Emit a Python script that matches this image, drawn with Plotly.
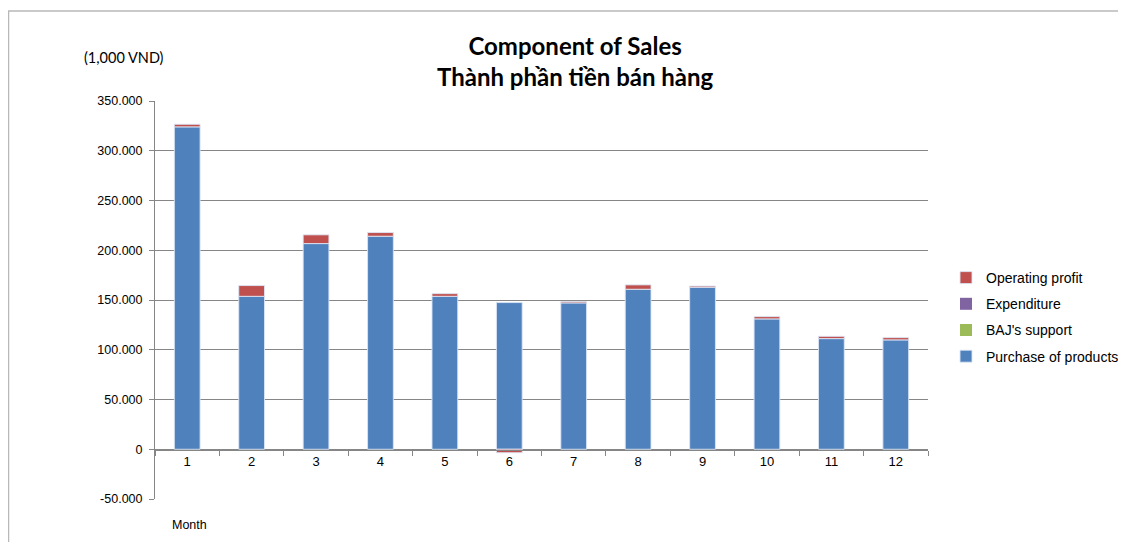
import plotly.graph_objects as go

months = [str(m) for m in range(1, 13)]
purchase = [324000, 153700, 206700, 214100, 153700, 147400, 147100, 160800, 162800, 131000, 111200, 109900]
baj_support = [0] * 12
expenditure = [0] * 12
operating_profit = [2600, 10800, 8800, 3700, 2700, -3500, 1300, 4400, 1200, 2300, 2300, 2300]

y_tickvals = [-50000, 0, 50000, 100000, 150000, 200000, 250000, 300000, 350000]
y_ticktext = ["-50.000", "0", "50.000", "100.000", "150.000", "200.000", "250.000", "300.000", "350.000"]

# page body has an 8px margin: figure occupies screen x 8..1126, y 8..542
OFF = 8
W, H = 1126 - OFF, 542 - OFF
# plot area in screen coordinates
L, R, T, B = 155, 928, 101, 499


def px(x):
    return (x - L) / (R - L)


def py(y):
    return (B - y) / (B - T)


edge = dict(color="rgba(220,230,245,0.9)", width=1)
fig = go.Figure()
fig.add_trace(go.Bar(x=months, y=purchase, name="Purchase of products", legendgroup="a", legendrank=4,
                     marker=dict(color="#4F81BD", line=edge)))
fig.add_trace(go.Bar(x=months, y=baj_support, name="BAJ's support", legendgroup="b", legendrank=3,
                     marker=dict(color="#9BBB59", line=dict(width=0))))
fig.add_trace(go.Bar(x=months, y=expenditure, name="Expenditure", legendgroup="c", legendrank=2,
                     marker=dict(color="#8064A2", line=dict(width=0))))
fig.add_trace(go.Bar(x=months, y=operating_profit, name="Operating profit", legendgroup="d", legendrank=1,
                     marker=dict(color="#C0504D", line=edge)))

fig.update_layout(
    width=W, height=H,
    margin=dict(l=L - OFF, r=1126 - R, t=T - OFF, b=542 - B, autoexpand=False),
    barmode="relative",
    bargap=0.6,
    plot_bgcolor="white",
    paper_bgcolor="white",
    font=dict(family="Liberation Sans, Arial", size=12, color="black"),
    showlegend=True,
    legend=dict(
        x=px(946), y=py(262), xanchor="left", yanchor="top",
        traceorder="grouped", font=dict(size=14, family="Liberation Sans, Arial"),
        itemwidth=30, tracegroupgap=5, bgcolor="rgba(0,0,0,0)",
    ),
    xaxis=dict(
        type="category", anchor="free", position=py(449.5),
        showline=True, linecolor="#868686", linewidth=1,
        ticks="outside", tickson="boundaries", ticklen=5, tickcolor="#868686",
        showgrid=False, tickfont=dict(size=13),
    ),
    yaxis=dict(
        range=[-50000, 350000], tickvals=y_tickvals, ticktext=y_ticktext,
        showline=True, linecolor="#868686", linewidth=1,
        ticks="outside", ticklen=5, tickcolor="#868686",
        showgrid=True, gridcolor="#868686", gridwidth=1,
        zeroline=False, tickfont=dict(size=12.5), ticklabelstandoff=4,
    ),
    annotations=[
        dict(text="<b>Component of Sales</b><br><b>Thành phần tiền bán hàng</b>",
             xref="paper", yref="paper", x=px(575), y=py(61), xanchor="center", yanchor="middle",
             showarrow=False, font=dict(family="Lato, Liberation Sans", size=24, color="black")),
        dict(text="(1,000 VND)", xref="paper", yref="paper", x=px(82), y=py(58),
             xanchor="left", yanchor="middle", showarrow=False,
             font=dict(family="Lato, Liberation Sans", size=14.5)),
        dict(text="Month", xref="paper", yref="paper", x=px(170), y=py(525),
             xanchor="left", yanchor="middle", showarrow=False,
             font=dict(family="Liberation Sans, Arial", size=12.5)),
    ],
    shapes=[
        dict(type="line", xref="paper", yref="paper", x0=px(8), x1=px(1130), y0=py(11), y1=py(11),
             line=dict(color="#b8b8b8", width=1.5)),
        dict(type="line", xref="paper", yref="paper", x0=px(8.5), x1=px(8.5), y0=py(11), y1=py(545),
             line=dict(color="#b8b8b8", width=1.5)),
    ],
)

fig.write_html("out.html")
